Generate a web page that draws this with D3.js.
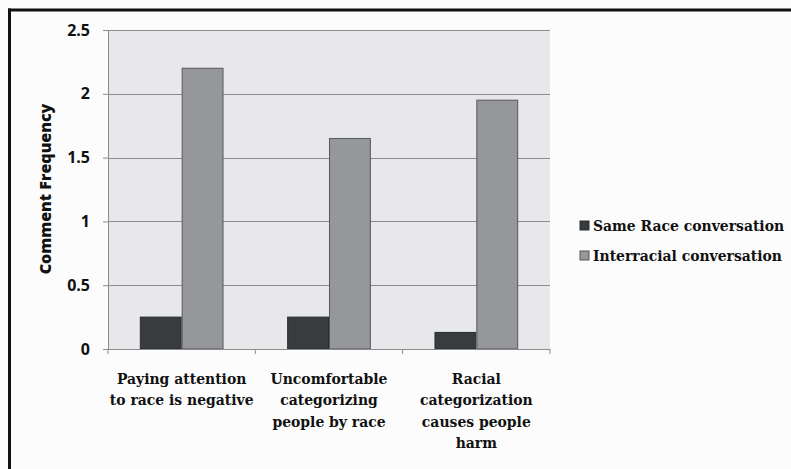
<!DOCTYPE html>
<html>
<head>
<meta charset="utf-8">
<script src="https://cdn.jsdelivr.net/npm/d3@7"></script>
<style>
  html, body { margin: 0; padding: 0; background: #fcfcfc; }
  svg { display: block; }
</style>
</head>
<body>
<svg id="chart" width="791" height="469"></svg>
<script>
// Comment frequency by theme and conversation type
const categories = [
  ["Paying attention", "to race is negative"],
  ["Uncomfortable", "categorizing", "people by race"],
  ["Racial", "categorization", "causes people", "harm"]
];
const seriesNames = ["Same Race conversation", "Interracial conversation"];
const sameRace = [0.25, 0.25, 0.13];
const interracial = [2.2, 1.65, 1.95];
const yTicks = [0, 0.5, 1, 1.5, 2, 2.5];
const yTickLabels = ["0", "0.5", "1", "1.5", "2", "2.5"];
const colors = ["#383c3f", "#96979b"];
const strokes = ["#2a2d30", "#55575a"];

const svg = d3.select("#chart");
const W = 791, H = 469;
const plot = { left: 108, right: 550, top: 30, bottom: 349 };

// Frame lines along the top and left edges
svg.append("line").attr("x1", 8).attr("x2", W).attr("y1", 10).attr("y2", 10)
  .attr("stroke", "#111").attr("stroke-width", 3);
svg.append("line").attr("x1", 9.5).attr("x2", 9.5).attr("y1", 8.5).attr("y2", H)
  .attr("stroke", "#111").attr("stroke-width", 3);

const x0 = d3.scaleBand().domain(d3.range(categories.length))
  .range([plot.left, plot.right]).paddingInner(0).paddingOuter(0);
const x1 = d3.scaleBand().domain(d3.range(seriesNames.length))
  .range([0, x0.bandwidth()]).paddingOuter(0.76).paddingInner(0);
const y = d3.scaleLinear().domain([0, 2.5]).range([plot.bottom, plot.top]);

// Plot background
svg.append("rect").attr("x", plot.left).attr("y", plot.top)
  .attr("width", plot.right - plot.left).attr("height", plot.bottom - plot.top)
  .attr("fill", "#e8e8ea");

// Gridlines
svg.append("g").selectAll("line").data(yTicks.filter(d => d > 0)).join("line")
  .attr("x1", plot.left).attr("x2", plot.right)
  .attr("y1", d => Math.round(y(d)) + 0.5).attr("y2", d => Math.round(y(d)) + 0.5)
  .attr("stroke", "#8c8c8e").attr("stroke-width", 1.2);

// Bars
const seriesData = [sameRace, interracial];
const groups = svg.append("g").selectAll("g").data(categories).join("g")
  .attr("transform", (d, i) => `translate(${x0(i)},0)`);
groups.selectAll("rect").data((d, i) => seriesData.map((s, k) => ({ k, v: s[i] }))).join("rect")
  .attr("x", d => x1(d.k) + 0.5)
  .attr("y", d => y(d.v))
  .attr("width", x1.bandwidth() - 1)
  .attr("height", d => y(0) - y(d.v))
  .attr("fill", d => colors[d.k])
  .attr("stroke", d => strokes[d.k])
  .attr("stroke-width", 1);

// Y axis
const yAxis = d3.axisLeft(y).tickValues(yTicks)
  .tickFormat((d, i) => yTickLabels[i]).tickSize(5).tickPadding(13);
const gy = svg.append("g").attr("transform", `translate(${plot.left},0)`).call(yAxis);
gy.select(".domain").attr("stroke", "#8c8c8e");
gy.selectAll(".tick line").attr("stroke", "#8c8c8e");
gy.selectAll(".tick text")
  .attr("font-family", "'Open Sans', sans-serif").attr("font-weight", 700)
  .attr("font-size", 16).attr("fill", "#111");

// X axis baseline and category separators
const xAxisG = svg.append("g");
xAxisG.append("line").attr("x1", plot.left).attr("x2", plot.right)
  .attr("y1", plot.bottom + 0.5).attr("y2", plot.bottom + 0.5)
  .attr("stroke", "#8c8c8e").attr("stroke-width", 1.2);
const seps = d3.range(categories.length + 1).map(i => i < categories.length ? x0(i) : x0(i - 1) + x0.bandwidth());
xAxisG.selectAll("line.sep").data(seps).join("line").attr("class", "sep")
  .attr("x1", d => d).attr("x2", d => d)
  .attr("y1", plot.bottom).attr("y2", plot.bottom + 5)
  .attr("stroke", "#8c8c8e");

// Category labels
const catText = svg.append("g").selectAll("text").data(categories).join("text")
  .attr("x", (d, i) => x0(i) + x0.bandwidth() / 2)
  .attr("y", 384)
  .attr("text-anchor", "middle")
  .attr("font-family", "'DejaVu Serif', serif").attr("font-weight", 700)
  .attr("font-size", 15.5).attr("fill", "#111")
  .style("font-stretch", "condensed");
catText.selectAll("tspan").data(d => d).join("tspan")
  .attr("x", function () { return this.parentNode.getAttribute("x"); })
  .attr("dy", (d, i) => i === 0 ? 0 : 21.3)
  .text(d => d);

// Y axis title
svg.append("text")
  .attr("transform", "translate(51,189) rotate(-90)")
  .attr("text-anchor", "middle")
  .attr("font-family", "'Open Sans', sans-serif").attr("font-weight", 800)
  .attr("font-size", 16).attr("fill", "#111")
  .text("Comment Frequency");

// Legend
const legend = svg.append("g").selectAll("g").data(seriesNames).join("g")
  .attr("transform", (d, i) => `translate(580,${226 + i * 30})`);
legend.append("rect").attr("x", 0).attr("y", -5).attr("width", 9).attr("height", 9)
  .attr("fill", (d, i) => colors[i]).attr("stroke", (d, i) => strokes[i]);
legend.append("text").attr("x", 13).attr("y", 5)
  .attr("font-family", "'DejaVu Serif', serif").attr("font-weight", 700)
  .attr("font-size", 15.5).attr("fill", "#111")
  .style("font-stretch", "condensed")
  .text(d => d);
</script>
</body>
</html>
